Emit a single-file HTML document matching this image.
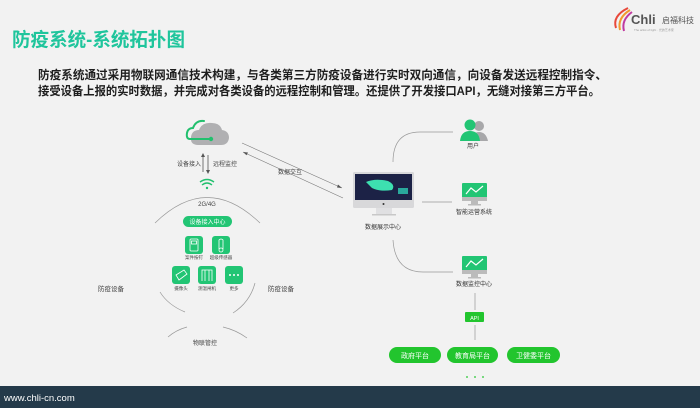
<!DOCTYPE html>
<html><head><meta charset="utf-8"><style>
body{margin:0;width:700px;height:408px;overflow:hidden;background:#f2f2f2;font-family:"Liberation Sans","Noto Sans CJK SC",sans-serif}
svg{position:absolute;left:0;top:0}
</style></head><body>
<svg width="700" height="408" viewBox="0 0 700 408" xmlns="http://www.w3.org/2000/svg" font-family="Liberation Sans, Noto Sans CJK SC, sans-serif">
<rect width="700" height="408" fill="#f2f2f2"/>
<g>
<path d="M628 8 Q612 16 616 28" stroke="#e8483a" stroke-width="2" fill="none"/>
<path d="M630 10 Q617 18 620 30" stroke="#f29a2e" stroke-width="2" fill="none"/>
<path d="M632 12 Q621 20 624 31" stroke="#c03aa0" stroke-width="2" fill="none"/>
<text x="631" y="24" font-size="13" fill="#555" font-weight="bold">Chli</text>
<text x="662" y="23" font-size="8" fill="#555">启福科技</text>
<text x="634" y="31" font-size="3" fill="#999">The artist of light · 光的艺术家</text>
</g>
<text x="12" y="46" font-size="19" font-weight="bold" fill="#1fc59c" textLength="173" lengthAdjust="spacingAndGlyphs">防疫系统-系统拓扑图</text>
<text x="38" y="79" font-size="12" font-weight="bold" fill="#1e1e1e" textLength="569" lengthAdjust="spacingAndGlyphs">防疫系统通过采用物联网通信技术构建，与各类第三方防疫设备进行实时双向通信，向设备发送远程控制指令、</text>
<text x="38" y="95" font-size="12" font-weight="bold" fill="#1e1e1e" textLength="562" lengthAdjust="spacingAndGlyphs">接受设备上报的实时数据，并完成对各类设备的远程控制和管理。还提供了开发接口API，无缝对接第三方平台。</text>

<path d="M198 145 Q190 145 191 137 Q192 130 199 130 Q202 122 212 123 Q220 123 222 130 Q229 131 229 138 Q228 145 221 145 Z" fill="#b0b0b2"/>
<path d="M200 139 L190 139 Q186 139 187 133 Q188 128 193 128 Q196 120 204 121" stroke="#22c06e" stroke-width="2" fill="none" stroke-linecap="round"/>
<line x1="190" y1="139" x2="210" y2="139" stroke="#22c06e" stroke-width="2"/>
<circle cx="211" cy="139" r="2.2" fill="#22c06e"/>
<g stroke="#555" stroke-width="0.8"><line x1="203" y1="155" x2="203" y2="172"/><line x1="208" y1="155" x2="208" y2="172"/></g>
<path d="M201 157 L203 153 L205 157Z M206 170 L208 174 L210 170Z" fill="#555"/>
<text x="177" y="166" font-size="6" fill="#444">设备接入</text>
<text x="213" y="166" font-size="6" fill="#444">远程监控</text>
<g stroke="#22c06e" stroke-width="1.4" fill="none">
<path d="M200 182 Q207 177 214 182"/><path d="M202 185 Q207 181 212 185"/>
</g>
<circle cx="207" cy="188" r="1.2" fill="#22c06e"/>
<text x="207" y="206" font-size="6" fill="#444" text-anchor="middle">2G/4G</text>
<g stroke="#999" stroke-width="0.7" fill="none">
<path d="M155 223 Q207 172 260 223"/>
<path d="M160 292 Q168 305 185 312"/>
<path d="M233 313 Q250 302 255 283"/>
<path d="M168 337 Q176 330 187 327"/>
<path d="M223 327 Q236 330 247 338"/>
</g>
<text x="205" y="345" font-size="6" fill="#444" text-anchor="middle">物联管控</text>
<text x="98" y="291" font-size="6.5" fill="#444">防疫设备</text>
<text x="268" y="291" font-size="6.5" fill="#444">防疫设备</text>
<rect x="183" y="216" width="49" height="11" rx="5.5" fill="#22c574"/>
<text x="207.5" y="224" font-size="6" fill="#fff" text-anchor="middle">设备接入中心</text>
<g fill="#22c574">
<rect x="185" y="236" width="18" height="18" rx="3"/>
<rect x="212" y="236" width="18" height="18" rx="3"/>
<rect x="172" y="266" width="18" height="18" rx="3"/>
<rect x="198" y="266" width="18" height="18" rx="3"/>
<rect x="225" y="266" width="18" height="18" rx="3"/>
</g>
<g stroke="#fff" stroke-width="0.8" fill="none">
<rect x="190" y="239" width="8" height="12" rx="1"/><rect x="191.5" y="241" width="5" height="3"/>
<path d="M219 249 V240 Q221 238 223 240 V249"/><circle cx="221" cy="250" r="2"/>
<path d="M176 275 L184 270 L187 274 L179 280Z"/>
<path d="M202 281 V270 H212 V281 M205 270 V281 M209 270 V281"/>
</g>
<g fill="#fff"><circle cx="230" cy="275" r="1"/><circle cx="234" cy="275" r="1"/><circle cx="238" cy="275" r="1"/></g>
<g font-size="4.5" fill="#444" text-anchor="middle">
<text x="194" y="259">案件按钉</text><text x="221" y="259">超级传感器</text>
<text x="181" y="290">摄像头</text><text x="207" y="290">测温闸机</text><text x="234" y="290">更多</text>
</g>
<g stroke="#777" stroke-width="0.6">
<line x1="242" y1="143" x2="342" y2="188"/><line x1="243" y1="152" x2="343" y2="198"/>
</g>
<path d="M342 188 L338 184.5 L337 187.5Z M243 152 L248 152.5 L246.5 155.3Z" fill="#555"/>
<text x="290" y="174" font-size="6" fill="#444" text-anchor="middle">数据交互</text>
<rect x="353" y="172" width="61" height="36" rx="1.5" fill="#d8d8da"/>
<rect x="355" y="174" width="57" height="26" fill="#1c2246"/>
<path d="M366 182 Q375 178 388 181 Q396 185 392 190 Q380 192 372 188Z" fill="#3de0b0"/>
<rect x="398" y="188" width="10" height="6" fill="#2aa89c"/>
<rect x="376" y="208" width="16" height="6" fill="#e0e0e2"/>
<rect x="372" y="214" width="24" height="1.5" fill="#c8c8c8"/>
<circle cx="383.5" cy="204" r="1" fill="#333"/>
<text x="383" y="229" font-size="6" fill="#333" text-anchor="middle">数据展示中心</text>
<g stroke="#999" stroke-width="0.7" fill="none">
<path d="M393 162 Q393 132 420 132 L453 132"/>
<line x1="422" y1="202" x2="452" y2="202"/>
<path d="M393 240 Q395 272 423 272 L453 272"/>
<line x1="475" y1="293" x2="475" y2="310"/><line x1="475" y1="325" x2="475" y2="340"/>
</g>
<circle cx="479" cy="126" r="5" fill="#a8a8aa"/>
<path d="M471 141 Q472 132 479 132 Q486 132 488 141Z" fill="#a8a8aa"/>
<circle cx="470" cy="125" r="5.5" fill="#22c574"/>
<path d="M460 141 Q461 131 470 131 Q479 131 480 141Z" fill="#22c574"/>
<text x="473" y="148" font-size="6" fill="#333" text-anchor="middle">用户</text>
<g>
<rect x="462" y="183" width="25" height="17" rx="1" fill="#22c574"/><rect x="462" y="197" width="25" height="4" fill="#bbb"/><rect x="471" y="201" width="7" height="3" fill="#bbb"/><rect x="468" y="204" width="13" height="1.5" fill="#bbb"/>
<path d="M466 194 L471 188 L476 192 L483 186" stroke="#fff" stroke-width="1.2" fill="none"/>
<text x="474" y="214" font-size="6" fill="#333" text-anchor="middle">智能运营系统</text>
<rect x="462" y="256" width="25" height="17" rx="1" fill="#22c574"/><rect x="462" y="270" width="25" height="4" fill="#bbb"/><rect x="471" y="274" width="7" height="3" fill="#bbb"/><rect x="468" y="277" width="13" height="1.5" fill="#bbb"/>
<path d="M466 267 L471 261 L476 265 L483 259" stroke="#fff" stroke-width="1.2" fill="none"/>
<text x="474" y="286" font-size="6" fill="#333" text-anchor="middle">数据监控中心</text>
</g>
<rect x="465" y="312" width="19" height="10" rx="1" fill="#22c52e"/>
<text x="474.5" y="320" font-size="5.5" fill="#fff" text-anchor="middle">API</text>
<g fill="#22c52e">
<rect x="389" y="347" width="52" height="16" rx="8"/>
<rect x="447" y="347" width="51" height="16" rx="8"/>
<rect x="507" y="347" width="53" height="16" rx="8"/>
<circle cx="467" cy="377" r="0.9"/><circle cx="475" cy="377" r="0.9"/><circle cx="483" cy="377" r="0.9"/>
</g>
<g font-size="7" fill="#fff" text-anchor="middle">
<text x="415" y="358">政府平台</text><text x="472.5" y="358">教育局平台</text><text x="533.5" y="358">卫健委平台</text>
</g>
<rect x="0" y="386" width="700" height="22" fill="#243a4a"/>
<text x="4" y="401" font-size="9.5" fill="#fff">www.chli-cn.com</text>
</svg>
</body></html>
